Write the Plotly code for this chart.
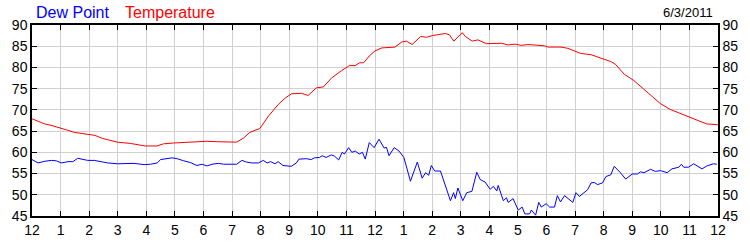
import plotly.graph_objects as go

# Hours since midnight and readings (°F)
temp_hours = [0.0, 0.2, 0.44, 0.7, 1.0, 1.2, 1.48, 2.0, 2.2, 2.46, 2.7, 2.98, 3.44, 3.7, 3.96,
              4.37, 4.6, 4.95, 5.5, 6.1, 6.5, 6.93, 7.16, 7.39, 7.62, 7.97, 8.2, 8.28, 8.62,
              8.86, 9.08, 9.43, 9.66, 9.95, 10.19, 10.48, 10.82, 11.12, 11.3, 11.46, 11.6,
              11.8, 12.0, 12.24, 12.7, 12.94, 13.1, 13.3, 13.6, 13.8, 14.0, 14.46, 14.6,
              14.76, 15.05, 15.16, 15.4, 15.6, 15.9, 16.43, 16.66, 16.9, 17.12, 17.35, 17.93,
              18.05, 18.51, 18.75, 19.2, 19.56, 19.9, 20.25, 20.42, 20.72, 21.06, 21.52,
              21.98, 22.33, 22.9, 23.6, 24.0]
temp_values = [67.9, 67.4, 66.7, 66.3, 65.6, 65.3, 64.7, 64.3, 64.0, 63.3, 62.9, 62.4, 62.1,
               61.8, 61.5, 61.5, 62.0, 62.2, 62.4, 62.6, 62.5, 62.4, 62.4, 63.3, 64.7, 65.6,
               67.9, 68.6, 71.3, 72.8, 73.8, 73.9, 73.4, 75.2, 75.4, 77.5, 79.2, 80.5, 80.4,
               81.1, 81.1, 82.7, 83.9, 84.6, 84.8, 86.0, 86.2, 85.4, 87.3, 87.1, 87.5, 88.0,
               87.7, 86.2, 88.2, 87.3, 86.2, 86.5, 85.6, 85.7, 85.3, 85.5, 85.2, 85.4, 85.1,
               84.8, 84.8, 84.5, 83.3, 83.0, 82.2, 81.4, 80.7, 78.4, 76.9, 74.3, 71.5, 70.1,
               68.6, 66.7, 66.5]

dew_hours = [0.0, 0.21, 0.45, 0.68, 0.85, 1.03, 1.26, 1.43, 1.60, 1.95, 2.18, 2.41, 2.65,
             2.99, 3.34, 3.57, 3.92, 4.15, 4.38, 4.50, 4.90, 5.08, 5.31, 5.54, 5.77, 5.95,
             6.12, 6.30, 6.53, 6.70, 6.93, 7.16, 7.34, 7.51, 7.69, 7.92, 8.09, 8.23, 8.35,
             8.50, 8.61, 8.78, 9.07, 9.25, 9.34, 9.60, 9.77, 9.88, 10.06, 10.15, 10.29,
             10.47, 10.58, 10.73, 10.85, 10.93, 11.08, 11.19, 11.31, 11.45, 11.56, 11.66,
             11.80, 11.97, 12.14, 12.32, 12.40, 12.49, 12.67, 12.84, 13.01, 13.24, 13.48,
             13.65, 13.77, 13.88, 13.97, 14.09, 14.29, 14.64, 14.75, 14.81, 14.90, 15.07,
             15.21, 15.39, 15.56, 15.68, 15.85, 16.03, 16.14, 16.26, 16.31, 16.49, 16.60,
             16.66, 16.83, 17.01, 17.15, 17.24, 17.41, 17.47, 17.62, 17.73, 17.82, 17.99,
             18.11, 18.28, 18.38, 18.49, 18.63, 18.75, 18.92, 19.03, 19.15, 19.44, 19.56,
             19.67, 19.79, 19.96, 20.08, 20.25, 20.37, 20.60, 20.77, 21.00, 21.18, 21.29,
             21.41, 21.64, 21.81, 21.99, 22.22, 22.39, 22.63, 22.72, 22.80, 22.97, 23.15,
             23.44, 23.61, 23.84, 23.96]
dew_values = [58.3, 57.5, 57.9, 58.1, 58.0, 57.5, 57.8, 57.8, 58.6, 58.1, 58.1, 57.8, 57.5,
              57.3, 57.4, 57.4, 57.1, 57.2, 57.5, 58.3, 58.7, 58.5, 58.0, 57.6, 56.9, 57.2,
              56.8, 57.2, 57.4, 57.2, 57.2, 57.2, 58.1, 57.7, 57.5, 57.5, 58.1, 57.5, 57.8,
              57.3, 57.8, 56.9, 56.7, 57.5, 58.4, 58.5, 58.3, 58.7, 58.8, 59.2, 58.8, 59.4,
              59.1, 58.2, 60.0, 59.6, 61.1, 60.0, 60.3, 59.6, 60.0, 58.4, 62.3, 61.1, 63.1,
              61.0, 61.2, 59.2, 61.1, 60.3, 58.8, 53.2, 57.7, 53.9, 55.2, 54.6, 56.9, 55.6,
              55.6, 48.6, 50.5, 49.1, 51.6, 48.6, 50.5, 50.8, 55.3, 53.6, 53.0, 51.3, 52.0,
              50.9, 52.2, 48.6, 49.3, 48.2, 49.1, 46.4, 47.1, 45.5, 45.5, 46.4, 45.2, 48.2,
              47.1, 47.9, 47.1, 47.1, 49.8, 48.3, 49.8, 49.1, 48.2, 50.5, 49.6, 51.2, 52.8,
              52.9, 52.4, 52.8, 54.3, 54.7, 56.7, 55.1, 53.7, 54.9, 54.9, 55.4, 55.2, 56.0,
              55.5, 55.7, 55.2, 56.1, 56.5, 57.2, 56.5, 56.5, 57.3, 56.1, 56.8, 57.3, 57.2]

x_tick_vals = list(range(0, 25))
x_tick_text = ["12", "1", "2", "3", "4", "5", "6", "7", "8", "9", "10", "11",
               "12", "1", "2", "3", "4", "5", "6", "7", "8", "9", "10", "11", "12"]
y_tick_vals = [45, 50, 55, 60, 65, 70, 75, 80, 85, 90]
date_label = "6/3/2011"

FONT = "Liberation Sans, Arial, sans-serif"

fig = go.Figure()
fig.add_trace(go.Scatter(x=temp_hours, y=temp_values, mode="lines", name="Temperature",
                         line=dict(color="#ff0000", width=1), yaxis="y"))
fig.add_trace(go.Scatter(x=dew_hours, y=dew_values, mode="lines", name="Dew Point",
                         line=dict(color="#0000ff", width=1), yaxis="y2"))

axis_common = dict(showline=True, linecolor="black", linewidth=1.5, ticks="inside",
                   ticklen=5, tickcolor="black", tickwidth=1,
                   tickfont=dict(family=FONT, size=14, color="black"))

fig.update_layout(
    width=750, height=250,
    margin=dict(l=31, r=29, t=25, b=25, pad=0),
    paper_bgcolor="white", plot_bgcolor="white",
    showlegend=False,
    xaxis=dict(range=[0, 24], tickmode="array", tickvals=x_tick_vals, ticktext=x_tick_text,
               showgrid=True, gridcolor="#d0d0d0", gridwidth=1, mirror="ticks",
               zeroline=False, **axis_common),
    yaxis=dict(range=[45, 90], tickmode="array", tickvals=y_tick_vals,
               showgrid=True, gridcolor="#d0d0d0", gridwidth=1, zeroline=False,
               side="left", **axis_common),
    yaxis2=dict(range=[45, 90], tickmode="array", tickvals=y_tick_vals,
                overlaying="y", side="right", showgrid=False, zeroline=False,
                **axis_common),
    annotations=[
        dict(text="Dew Point", x=33, y=12, xref="paper", yref="paper", showarrow=False,
             font=dict(family=FONT, size=16, color="#0000ff"), xanchor="left", yanchor="middle"),
        dict(text="Temperature", x=123, y=12, xref="paper", yref="paper", showarrow=False,
             font=dict(family=FONT, size=16, color="#ff0000"), xanchor="left", yanchor="middle"),
        dict(text=date_label, x=718, y=12, xref="paper", yref="paper", showarrow=False,
             font=dict(family=FONT, size=13, color="black"), xanchor="right", yanchor="middle"),
    ],
)

# convert pixel positions of header texts into paper coords
plot_w = 750 - 31 - 29
plot_h = 250 - 25 - 25
for ann in fig.layout.annotations:
    ann.x = (ann.x - 31) / plot_w
    ann.y = 1 + (25 - ann.y) / plot_h

fig.write_html("out.html")
